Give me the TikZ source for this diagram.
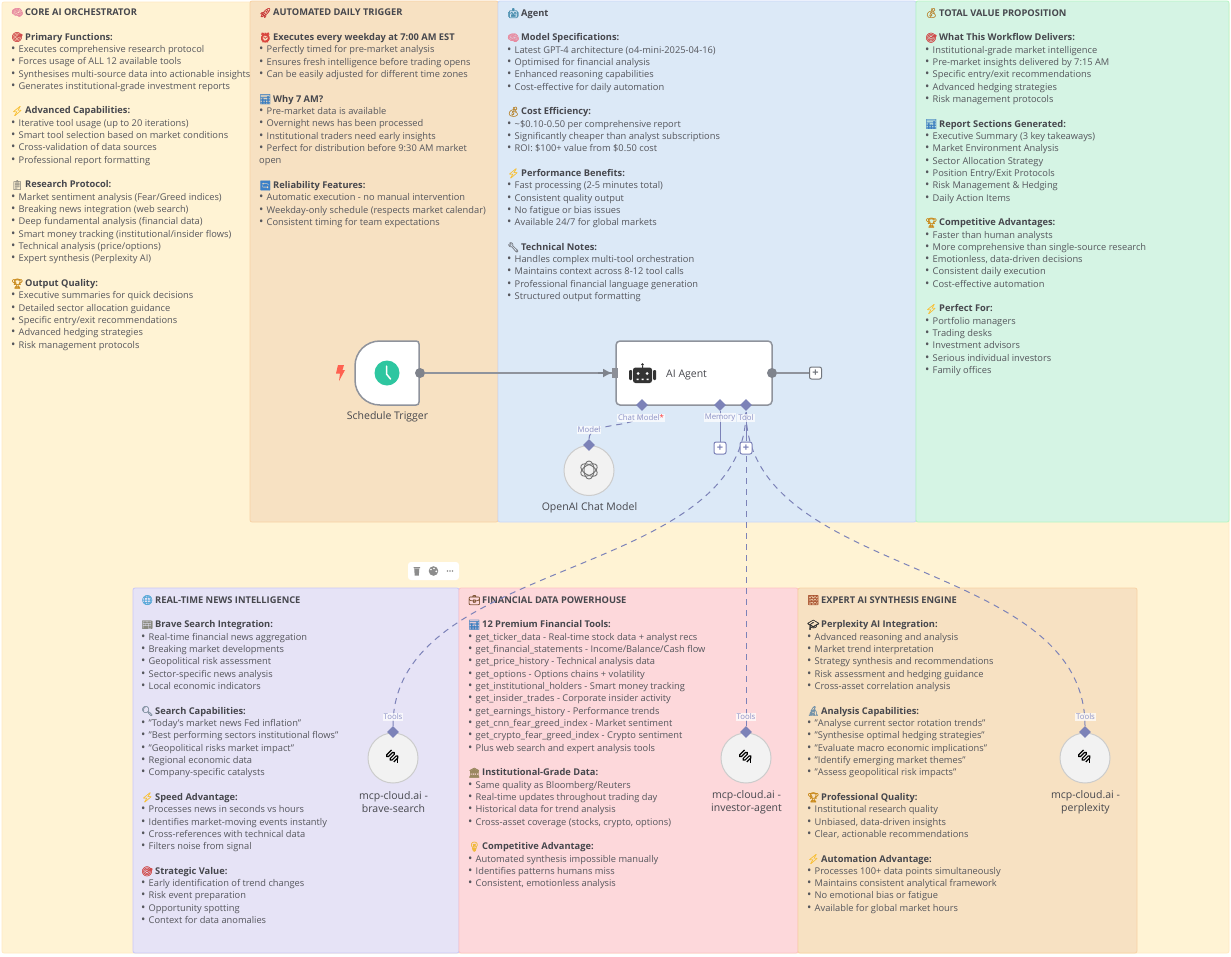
\documentclass[tikz,border=0pt]{standalone}
\usepackage{fontspec}
\setmainfont{Open Sans}
\newfontfamily\emofont[FakeBold=1.4]{Noto Emoji}
\usetikzlibrary{shapes.geometric,arrows.meta}
\definecolor{txt}{HTML}{55565C}
\definecolor{hdg}{HTML}{46474D}
\definecolor{conn}{HTML}{7C82B8}
\definecolor{lbl}{HTML}{8D92C6}
\definecolor{edgegray}{HTML}{8F939C}
\definecolor{dotgray}{HTML}{7F838C}
\definecolor{clockgreen}{HTML}{2EC6A0}
\definecolor{boltred}{HTML}{FF6150}
\newcommand{\emo}[2]{\makebox[14pt][l]{\raisebox{-0.3pt}{\fontsize{9.6}{9.6}\emofont\color[HTML]{#1}#2}}}
\newcommand{\hd}[3]{{\color{hdg}\bfseries\emo{#1}{#2}#3}}
\newcommand{\bl}[1]{\makebox[7.5pt][l]{\fontsize{11.5}{9}\selectfont •}#1}
\newcommand{\mcpicon}[2]{\begin{scope}[shift={(#1,#2)},rotate=45,line width=1.2pt,rounded corners=1.2pt,black]
 \draw (4,-6) -- (-4,-6) -- (-4,-3.5) -- (4,-3.5) -- (4,-1) -- (-4,-1) -- (-4,1.5) -- (4,1.5) -- (4,4) -- (-3,4);
 \draw (2,4) -- (-1,7);
 \end{scope}}
\newcommand{\oaiicon}[2]{\begin{scope}[shift={(#1,#2)},line width=.9pt,draw=black!55]
 \foreach \a in {30,90,150}{\draw[rotate=\a] (0,0) ellipse [x radius=9,y radius=5];}
 \end{scope}}
\tikzset{x=1pt,y=-1pt,
 notetext/.style={anchor=north west,inner sep=0pt,align=left,text=txt,font=\fontsize{9.3}{12.33}\selectfont},
 nodename/.style={align=center,text=hdg,font=\fontsize{10.5}{13}\selectfont,inner sep=0pt},
 port/.style={circle,fill=dotgray,minimum size=10pt,inner sep=0pt},
 dia/.style={diamond,fill=conn,minimum size=12pt,inner sep=0pt},
 plusbox/.style={draw=#1,fill=white,rounded corners=2pt,line width=1pt,minimum size=12pt,inner sep=0pt,text=#1,font=\fontsize{11}{11}\selectfont\bfseries},
 round node/.style={circle,draw=black!20,fill=gray!10,line width=1pt,minimum size=50pt,inner sep=0pt},
 portlabel/.style={fill=white,fill opacity=.72,text opacity=1,text=lbl,inner sep=1pt,font=\fontsize{7.8}{9}\selectfont},
 solidc/.style={draw=conn,line width=1pt},
 dashc/.style={draw=conn,line width=1pt,dash pattern=on 6pt off 5pt},
 mainc/.style={draw=edgegray,line width=1.5pt},
}
\begin{document}
\begin{tikzpicture}
\useasboundingbox (0,0) rectangle (1231,956);
\fill[white] (0,0) rectangle (1231,956);
% panels
\definecolor{py}{HTML}{FFF3D4}\definecolor{po}{HTML}{F7E1C2}\definecolor{pb}{HTML}{DCE9F7}
\definecolor{pg}{HTML}{D5F4E4}\definecolor{pp}{HTML}{E6E3F6}\definecolor{pr}{HTML}{FDD8DB}
\filldraw[fill=py,draw=py!92!orange,rounded corners=2pt,line width=.8pt] (2,2) rectangle (1229,953);
\filldraw[fill=po,draw=po!85!orange,rounded corners=2pt,line width=.8pt] (250,1) rectangle (498,522);
\filldraw[fill=pb,draw=pb!92!blue,rounded corners=2pt,line width=.8pt] (498,1) rectangle (916,522);
\filldraw[fill=pg,draw=pg!85!green,rounded corners=2pt,line width=.8pt] (916,1) rectangle (1229,522);
\filldraw[fill=pp,draw=pp!88!blue,rounded corners=2pt,line width=.8pt] (133,588) rectangle (459,953);
\filldraw[fill=pr,draw=pr!90!red,rounded corners=2pt,line width=.8pt] (459,588) rectangle (798,953);
\filldraw[fill=po,draw=po!85!orange,rounded corners=2pt,line width=.8pt] (798,588) rectangle (1137,953);
% notes
\node[notetext] (noteCore) at (11,8) {\hd{E88BA0}{🧠}{CORE AI ORCHESTRATOR}\\[12.33pt]
\hd{D04A4A}{🎯}{Primary Functions:}\\
\bl{Executes comprehensive research protocol}\\
\bl{Forces usage of ALL 12 available tools}\\
\bl{Synthesises multi-source data into actionable insights}\\
\bl{Generates institutional-grade investment reports}\\[12.33pt]
\hd{F8C13A}{⚡}{Advanced Capabilities:}\\
\bl{Iterative tool usage (up to 20 iterations)}\\
\bl{Smart tool selection based on market conditions}\\
\bl{Cross-validation of data sources}\\
\bl{Professional report formatting}\\[12.33pt]
\hd{9A968A}{📋}{Research Protocol:}\\
\bl{Market sentiment analysis (Fear/Greed indices)}\\
\bl{Breaking news integration (web search)}\\
\bl{Deep fundamental analysis (financial data)}\\
\bl{Smart money tracking (institutional/insider flows)}\\
\bl{Technical analysis (price/options)}\\
\bl{Expert synthesis (Perplexity AI)}\\[12.33pt]
\hd{C98A1C}{🏆}{Output Quality:}\\
\bl{Executive summaries for quick decisions}\\
\bl{Detailed sector allocation guidance}\\
\bl{Specific entry/exit recommendations}\\
\bl{Advanced hedging strategies}\\
\bl{Risk management protocols}};
\node[notetext] (noteTrig) at (259,8) {\hd{C83A3A}{🚀}{AUTOMATED DAILY TRIGGER}\\[12.33pt]
\hd{D9463E}{⏰}{Executes every weekday at 7:00 AM EST}\\
\bl{Perfectly timed for pre-market analysis}\\
\bl{Ensures fresh intelligence before trading opens}\\
\bl{Can be easily adjusted for different time zones}\\[12.33pt]
\hd{3E7FC0}{📊}{Why 7 AM?}\\
\bl{Pre-market data is available}\\
\bl{Overnight news has been processed}\\
\bl{Institutional traders need early insights}\\
\bl{Perfect for distribution before 9:30 AM market}\\
open\\[12.33pt]
\hd{3C80C8}{🔄}{Reliability Features:}\\
\bl{Automatic execution - no manual intervention}\\
\bl{Weekday-only schedule (respects market calendar)}\\
\bl{Consistent timing for team expectations}};
\node[notetext] (noteAgent) at (507,8) {\hd{4A8FAF}{🤖}{Agent}\\[12.33pt]
\hd{E88BA0}{🧠}{Model Specifications:}\\
\bl{Latest GPT-4 architecture (o4-mini-2025-04-16)}\\
\bl{Optimised for financial analysis}\\
\bl{Enhanced reasoning capabilities}\\
\bl{Cost-effective for daily automation}\\[12.33pt]
\hd{B98A3A}{💰}{Cost Efficiency:}\\
\bl{\textasciitilde\$0.10-0.50 per comprehensive report}\\
\bl{Significantly cheaper than analyst subscriptions}\\
\bl{ROI: \$100+ value from \$0.50 cost}\\[12.33pt]
\hd{F8C13A}{⚡}{Performance Benefits:}\\
\bl{Fast processing (2-5 minutes total)}\\
\bl{Consistent quality output}\\
\bl{No fatigue or bias issues}\\
\bl{Available 24/7 for global markets}\\[12.33pt]
\hd{7C8088}{🔧}{Technical Notes:}\\
\bl{Handles complex multi-tool orchestration}\\
\bl{Maintains context across 8-12 tool calls}\\
\bl{Professional financial language generation}\\
\bl{Structured output formatting}};
\node[notetext] (noteValue) at (925,8) {\hd{B98A3A}{💰}{TOTAL VALUE PROPOSITION}\\[12.33pt]
\hd{D04A4A}{🎯}{What This Workflow Delivers:}\\
\bl{Institutional-grade market intelligence}\\
\bl{Pre-market insights delivered by 7:15 AM}\\
\bl{Specific entry/exit recommendations}\\
\bl{Advanced hedging strategies}\\
\bl{Risk management protocols}\\[12.33pt]
\hd{3E7FC0}{📊}{Report Sections Generated:}\\
\bl{Executive Summary (3 key takeaways)}\\
\bl{Market Environment Analysis}\\
\bl{Sector Allocation Strategy}\\
\bl{Position Entry/Exit Protocols}\\
\bl{Risk Management \& Hedging}\\
\bl{Daily Action Items}\\[12.33pt]
\hd{C98A1C}{🏆}{Competitive Advantages:}\\
\bl{Faster than human analysts}\\
\bl{More comprehensive than single-source research}\\
\bl{Emotionless, data-driven decisions}\\
\bl{Consistent daily execution}\\
\bl{Cost-effective automation}\\[12.33pt]
\hd{F8C13A}{⚡}{Perfect For:}\\
\bl{Portfolio managers}\\
\bl{Trading desks}\\
\bl{Investment advisors}\\
\bl{Serious individual investors}\\
\bl{Family offices}};
\node[notetext] (noteNews) at (141,595) {\hd{5AA9D8}{🌐}{REAL-TIME NEWS INTELLIGENCE}\\[12.33pt]
\hd{8A8A80}{📰}{Brave Search Integration:}\\
\bl{Real-time financial news aggregation}\\
\bl{Breaking market developments}\\
\bl{Geopolitical risk assessment}\\
\bl{Sector-specific news analysis}\\
\bl{Local economic indicators}\\[12.33pt]
\hd{8090A0}{🔍}{Search Capabilities:}\\
\bl{"Today's market news Fed inflation"}\\
\bl{"Best performing sectors institutional flows"}\\
\bl{"Geopolitical risks market impact"}\\
\bl{Regional economic data}\\
\bl{Company-specific catalysts}\\[12.33pt]
\hd{F8C13A}{⚡}{Speed Advantage:}\\
\bl{Processes news in seconds vs hours}\\
\bl{Identifies market-moving events instantly}\\
\bl{Cross-references with technical data}\\
\bl{Filters noise from signal}\\[12.33pt]
\hd{D04A4A}{🎯}{Strategic Value:}\\
\bl{Early identification of trend changes}\\
\bl{Risk event preparation}\\
\bl{Opportunity spotting}\\
\bl{Context for data anomalies}};
\node[notetext] (noteFin) at (468,595) {\hd{7A5030}{💼}{FINANCIAL DATA POWERHOUSE}\\[12.33pt]
\hd{3E7FC0}{📊}{12 Premium Financial Tools:}\\
\bl{get\_ticker\_data - Real-time stock data + analyst recs}\\
\bl{get\_financial\_statements - Income/Balance/Cash flow}\\
\bl{get\_price\_history - Technical analysis data}\\
\bl{get\_options - Options chains + volatility}\\
\bl{get\_institutional\_holders - Smart money tracking}\\
\bl{get\_insider\_trades - Corporate insider activity}\\
\bl{get\_earnings\_history - Performance trends}\\
\bl{get\_cnn\_fear\_greed\_index - Market sentiment}\\
\bl{get\_crypto\_fear\_greed\_index - Crypto sentiment}\\
\bl{Plus web search and expert analysis tools}\\[12.33pt]
\hd{9A8860}{🏛}{Institutional-Grade Data:}\\
\bl{Same quality as Bloomberg/Reuters}\\
\bl{Real-time updates throughout trading day}\\
\bl{Historical data for trend analysis}\\
\bl{Cross-asset coverage (stocks, crypto, options)}\\[12.33pt]
\hd{F0B93A}{💡}{Competitive Advantage:}\\
\bl{Automated synthesis impossible manually}\\
\bl{Identifies patterns humans miss}\\
\bl{Consistent, emotionless analysis}};
\node[notetext] (noteExpert) at (807,595) {\hd{A9522F}{🧱}{EXPERT AI SYNTHESIS ENGINE}\\[12.33pt]
\hd{333333}{🎓}{Perplexity AI Integration:}\\
\bl{Advanced reasoning and analysis}\\
\bl{Market trend interpretation}\\
\bl{Strategy synthesis and recommendations}\\
\bl{Risk assessment and hedging guidance}\\
\bl{Cross-asset correlation analysis}\\[12.33pt]
\hd{7090A8}{🔬}{Analysis Capabilities:}\\
\bl{"Analyse current sector rotation trends"}\\
\bl{"Synthesise optimal hedging strategies"}\\
\bl{"Evaluate macro economic implications"}\\
\bl{"Identify emerging market themes"}\\
\bl{"Assess geopolitical risk impacts"}\\[12.33pt]
\hd{C98A1C}{🏆}{Professional Quality:}\\
\bl{Institutional research quality}\\
\bl{Unbiased, data-driven insights}\\
\bl{Clear, actionable recommendations}\\[12.33pt]
\hd{F8C13A}{⚡}{Automation Advantage:}\\
\bl{Processes 100+ data points simultaneously}\\
\bl{Maintains consistent analytical framework}\\
\bl{No emotional bias or fatigue}\\
\bl{Available for global market hours}};
% toolbar
\fill[white,rounded corners=3pt] (408,562) rectangle (459,580);
\fill[black!45] (413.5,567) rectangle (420,568) (414.2,568.6) -- (419.3,568.6) -- (418.8,575.5) -- (414.7,575.5) -- cycle;
\fill[black!45] (433.5,571) circle [radius=4.8];
\fill[white] (431,569.5) circle [radius=.8] (434,568.5) circle [radius=.8] (436.3,571.3) circle [radius=1];
\foreach \x in {447.5,450,452.5}{\fill[black!45] (\x,571) circle [radius=.9];}
% workflow nodes
\filldraw[fill=white,draw=edgegray,line width=1.5pt] (380,341) -- (416,341) .. controls (418,341) and (419,342) .. (419,344) -- (419,402) .. controls (419,404) and (418,405) .. (416,405) -- (380,405) .. controls (366,405) and (355,394) .. (355,380) -- (355,366) .. controls (355,352) and (366,341) .. (380,341) -- cycle;
\node[circle,fill=clockgreen,minimum size=25pt,inner sep=0pt] (clock) at (387,373) {};
\draw[white,line width=1.5pt,line cap=round,line join=round] (386.5,366) -- (386.5,374) -- (390.5,379);
\fill[boltred] (338,365) -- (344,365) -- (342.5,370) -- (345,370) -- (339,381) -- (340,373.5) -- (336,373.5) -- cycle;
\node[nodename] (triggerName) at (387.5,417) {Schedule Trigger};
\filldraw[fill=white,draw=edgegray,line width=1.5pt,rounded corners=4pt] (616,341) rectangle (772,405);
\node[inner sep=0pt,text=hdg,font=\fontsize{10.5}{13}\selectfont,anchor=base west] (agentName) at (666,377) {AI Agent};
% robot
\fill[black!80,rounded corners=2.5pt] (633,367.5) rectangle (652,383);
\fill[black!80,rounded corners=1pt] (629,370) rectangle (632,380) (653,370) rectangle (656,380);
\fill[black!80] (642.5,364.5) circle [radius=1.3] (642,365) rectangle (643,368);
\fill[white] (638,373.5) circle [radius=1.5] (647,373.5) circle [radius=1.5];
\fill[white] (636.5,378.5) rectangle (638.5,380) (641.5,378.5) rectangle (643.5,380) (646.5,378.5) rectangle (648.5,380);
\node[port] (trigOut) at (420,373) {};
\node[port] (agentOut) at (772,373) {};
\node[fill=dotgray!90,minimum width=5.5pt,minimum height=10pt,inner sep=0pt] (agentIn) at (615,373) {};
\node[plusbox=edgegray!80!black] (plusMain) at (815.5,373) {+};
\node[dia] (chatPort) at (642,405) {};
\node[dia] (memPort) at (720,405) {};
\node[dia] (toolPort) at (746,405) {};
\node[plusbox=conn] (plusMem) at (720,448) {+};
\node[round node] (openai) at (589,470.5) {};
\node[round node] (brave) at (393,758) {};
\node[round node] (investor) at (746,758) {};
\node[round node] (perplexity) at (1085,758) {};
\node[dia] (openaiPort) at (589,445) {};
\node[dia] (bravePort) at (393,732) {};
\node[dia] (investorPort) at (746,732) {};
\node[dia] (perplexityPort) at (1085,732) {};
\oaiicon{589}{470}
\mcpicon{393}{757}
\mcpicon{746}{757}
\mcpicon{1085}{757}
\node[nodename] (openaiName) at (589.5,507.5) {OpenAI Chat Model};
\node[nodename] (braveName) at (393.5,802) {mcp-cloud.ai -\\brave-search};
\node[nodename] (investorName) at (746.5,802) {mcp-cloud.ai -\\investor-agent};
\node[nodename] (perplexityName) at (1085.5,802) {mcp-cloud.ai -\\perplexity};
% connectors
\draw[mainc] (trigOut) -- (agentIn);
\draw[mainc,draw=dotgray,-{Latex[length=9pt,width=9pt]}] ([xshift=-14pt]agentIn.west) -- (agentIn.west);
\draw[mainc] (agentOut) -- (plusMain);
\draw[solidc] (memPort) -- (plusMem);
\draw[solidc,-{Latex[length=5pt,width=5pt]}] (toolPort) ++(0,36) -- (toolPort);
\draw[dashc] (openaiPort) .. controls +(0,-25) and +(0,25) .. (chatPort);
\draw[dashc] (bravePort) .. controls +(0,-175) and +(0,175) .. (toolPort);
\draw[dashc] (investorPort) -- (toolPort);
\draw[dashc] (perplexityPort) .. controls +(0,-175) and +(0,175) .. (toolPort);
\node[plusbox=conn] (plusTool) at (746,448) {+};
% port labels
\node[portlabel] (chatLabel) at (641,417.5) {Chat Model\textcolor{red!80}{*}};
\node[portlabel] (memLabel) at (720,417.5) {Memory};
\node[portlabel] (toolLabel) at (746,417.5) {Tool};
\node[portlabel] (openaiLabel) at (589,430) {Model};
\node[portlabel] (braveLabel) at (393,717) {Tools};
\node[portlabel] (investorLabel) at (746,717) {Tools};
\node[portlabel] (perplexityLabel) at (1085.5,717) {Tools};
\end{tikzpicture}
\end{document}
